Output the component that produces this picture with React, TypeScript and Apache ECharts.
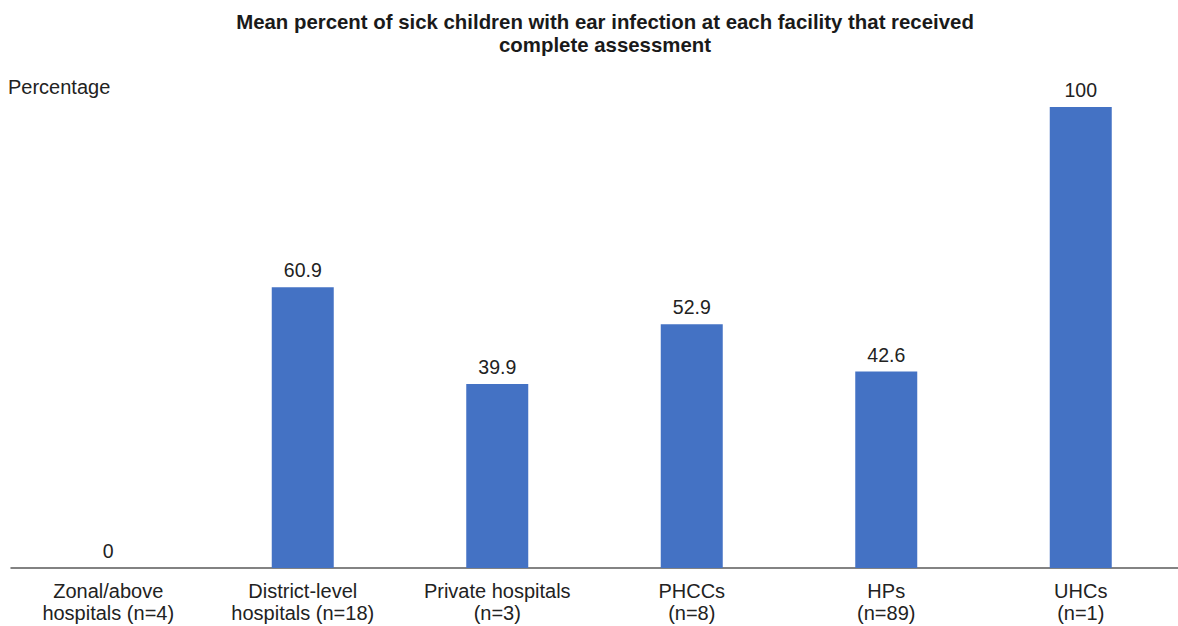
import React, { useEffect, useRef } from "react";
import * as echarts from "echarts";

const categories = [
  "Zonal/above\nhospitals (n=4)",
  "District-level\nhospitals (n=18)",
  "Private hospitals\n(n=3)",
  "PHCCs\n(n=8)",
  "HPs\n(n=89)",
  "UHCs\n(n=1)",
];
const values = [0, 60.9, 39.9, 52.9, 42.6, 100];

const titleText =
  "Mean percent of sick children with ear infection at each facility that received\ncomplete assessment";
const yLabel = "Percentage";

const FONT = "Liberation Sans, Arial, sans-serif";

export default function App() {
  const ref = useRef<HTMLDivElement>(null);

  useEffect(() => {
    if (!ref.current) return;
    const chart = echarts.init(ref.current, undefined, { renderer: "svg" });
    chart.setOption({
      animation: false,
      backgroundColor: "#ffffff",
      title: {
        text: titleText,
        left: 600,
        textAlign: "center",
        top: 5,
        textStyle: {
          fontFamily: FONT,
          fontSize: 20.4,
          fontWeight: "bold",
          color: "#1a1a1a",
          lineHeight: 23,
        },
      },
      graphic: [
        {
          type: "text",
          left: 8,
          top: 77,
          style: {
            text: yLabel,
            fontFamily: FONT,
            fontSize: 20,
            fill: "#222222",
          },
        },
      ],
      grid: { left: 11, right: -7, top: 107, bottom: 58, containLabel: false },
      xAxis: {
        type: "category",
        data: categories,
        axisLine: { show: true, lineStyle: { color: "#5a5a5a", width: 1.5 } },
        axisTick: { show: false },
        axisLabel: {
          interval: 0,
          margin: 12,
          fontFamily: FONT,
          fontSize: 20,
          lineHeight: 22,
          color: "#222222",
        },
      },
      yAxis: {
        type: "value",
        min: 0,
        max: 100,
        show: false,
        splitLine: { show: false },
      },
      series: [
        {
          type: "bar",
          data: values,
          barWidth: 62,
          itemStyle: { color: "#4472C4" },
          label: {
            show: true,
            position: "top",
            distance: 7,
            fontFamily: FONT,
            fontSize: 19.5,
            color: "#222222",
          },
        },
      ],
    });
    return () => chart.dispose();
  }, []);

  return (
    <div
      ref={ref}
      style={{ position: "fixed", left: 0, top: 0, width: 1178, height: 626 }}
    />
  );
}
